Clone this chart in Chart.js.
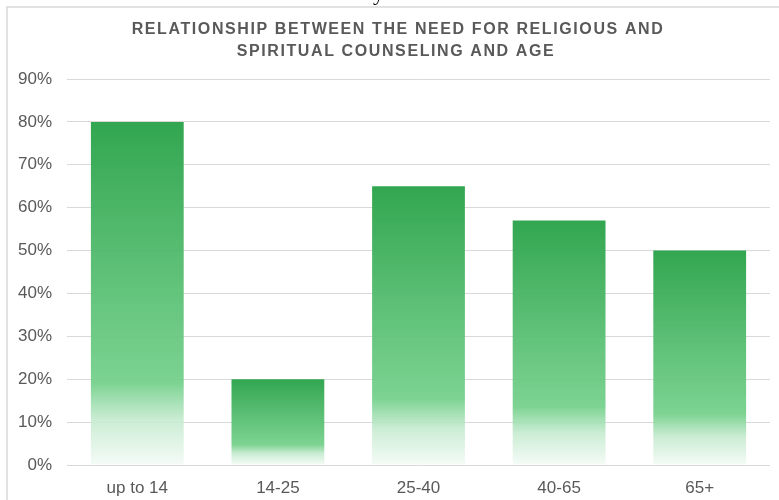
<!DOCTYPE html>
<html>
<head>
<meta charset="utf-8">
<script src="https://cdn.jsdelivr.net/npm/chart.js@4/dist/chart.umd.min.js"></script>
<style>
  html, body { margin: 0; padding: 0; background: #ffffff; }
  #wrap { position: relative; width: 779px; height: 500px; }
</style>
</head>
<body>
<div id="wrap"><canvas id="chart"></canvas></div>
<script>
// Age groups and the share of respondents who need religious/spiritual counseling
const categories = ['up to 14', '14-25', '25-40', '40-65', '65+'];
const needShare = [80, 20, 65, 57, 50];
const titleLines = ['RELATIONSHIP BETWEEN THE NEED FOR RELIGIOUS AND', 'SPIRITUAL COUNSELING AND AGE'];

const TEXT_GREY = '#595959';
const GRID_GREY = '#d9d9d9';

// Vertical green fade for each bar, from its top down to the baseline
function barGradient(ctx) {
  const chart = ctx.chart;
  const y = chart.scales && chart.scales.y;
  if (!chart.chartArea || !y || ctx.dataIndex === undefined) return 'rgba(52,168,83,0.95)';
  const top = y.getPixelForValue(ctx.raw);
  const base = y.getPixelForValue(0);
  const g = chart.ctx.createLinearGradient(0, top, 0, base);
  g.addColorStop(0, 'rgba(50,166,80,1)');
  g.addColorStop(0.76, 'rgba(116,208,139,0.94)');
  g.addColorStop(0.87, 'rgba(198,235,208,0.9)');
  g.addColorStop(1, 'rgba(244,251,246,0.9)');
  return g;
}

// Frame lines, the heading and the clipped glyph of the text above
const framePlugin = {
  id: 'frame',
  beforeDraw(chart) {
    const c = chart.ctx;
    c.save();
    c.strokeStyle = GRID_GREY;
    c.lineWidth = 1.5;
    c.beginPath();
    c.moveTo(7, 500);
    c.lineTo(7, 7);
    c.lineTo(779, 7);
    c.stroke();
    c.fillStyle = '#000000';
    c.font = '22px "Liberation Serif"';
    c.textBaseline = 'alphabetic';
    c.fillText('y', 373, 0);
    c.restore();
  },
  afterDraw(chart) {
    const c = chart.ctx;
    c.save();
    c.fillStyle = TEXT_GREY;
    c.font = 'bold 16px "Liberation Sans", Arial, sans-serif';
    c.letterSpacing = '1.6px';
    c.textAlign = 'center';
    c.textBaseline = 'alphabetic';
    c.fillText(titleLines[0], 398, 34);
    c.fillText(titleLines[1], 396, 56);
    c.restore();
  }
};

new Chart(document.getElementById('chart'), {
  type: 'bar',
  data: {
    labels: categories,
    datasets: [{
      data: needShare,
      backgroundColor: barGradient,
      borderWidth: 0,
      categoryPercentage: 1,
      barPercentage: 0.66
    }]
  },
  options: {
    responsive: true,
    maintainAspectRatio: false,
    animation: false,
    layout: { padding: { left: 8, right: 9, top: 79, bottom: 0 } },
    plugins: {
      legend: { display: false },
      tooltip: { enabled: false },
      title: { display: false }
    },
    scales: {
      x: {
        grid: { display: false, drawTicks: false },
        border: { display: false },
        ticks: {
          color: TEXT_GREY,
          padding: 13,
          font: { family: '"Liberation Sans", Arial, sans-serif', size: 17 }
        },
        afterFit(scale) { scale.height = 35; }
      },
      y: {
        min: 0,
        max: 90,
        grid: { color: GRID_GREY, lineWidth: 1, drawTicks: false },
        border: { display: false },
        ticks: {
          stepSize: 10,
          color: TEXT_GREY,
          padding: 15,
          font: { family: '"Liberation Sans", Arial, sans-serif', size: 17 },
          callback: (v) => v + '%'
        },
        afterFit(scale) { scale.width = 59; }
      }
    }
  },
  plugins: [framePlugin]
});
</script>
</body>
</html>
